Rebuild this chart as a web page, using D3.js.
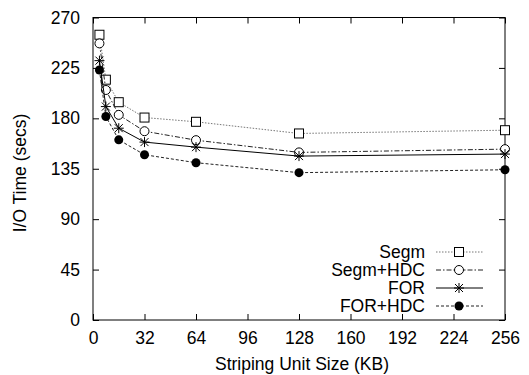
<!DOCTYPE html>
<html>
<head>
<meta charset="utf-8">
<script src="https://cdn.jsdelivr.net/npm/d3@7"></script>
<style>
  body { margin: 0; background: #fff; }
  svg text { font-family: "Liberation Sans", Arial, sans-serif; fill: #000; }
</style>
</head>
<body>
<svg id="chart" width="529" height="375"></svg>
<script>
// striping unit sizes (KB)
const unitSizes = [4, 8, 16, 32, 64, 128, 256];
const seriesNames = ['Segm', 'Segm+HDC', 'FOR', 'FOR+HDC'];
const segm = [254.6, 214.5, 194.4, 180.7, 176.9, 166.5, 169.4];
const segmHdc = [246.9, 205.3, 183.1, 168.5, 160.5, 149.6, 152.5];
const forVals = [231.5, 190.5, 171.2, 158.8, 154.3, 146.3, 148.1];
const forHdc = [223.1, 181.6, 160.8, 147.5, 140.4, 131.5, 134.1];
const xTicks = [0, 32, 64, 96, 128, 160, 192, 224, 256];
const yTicks = [0, 45, 90, 135, 180, 225, 270];

const allSeries = [segm, segmHdc, forVals, forHdc];
const dashes = ['1.5,1.5', '5,2,1.5,2', null, '3,2'];
const strokes = ['#777', '#222', '#000', '#222'];
const markers = ['square', 'circle', 'star', 'dot'];

const fontSize = '17.5px';
const svg = d3.select('#chart');
const pLeft = 93, pRight = 505, pTop = 17.5, pBottom = 320;

const x = d3.scaleLinear().domain([0, 256]).range([pLeft, pRight]);
const y = d3.scaleLinear().domain([0, 270]).range([pBottom, pTop]);

// axes with inward ticks (gnuplot style)
svg.append('g')
    .attr('transform', `translate(0,${pBottom})`)
    .call(d3.axisBottom(x).tickValues(xTicks).tickSizeInner(-6).tickSizeOuter(0).tickPadding(12))
    .call(g => g.select('.domain').remove())
    .selectAll('text').style('font-size', fontSize);
svg.append('g')
    .attr('transform', `translate(0,${pTop})`)
    .call(d3.axisTop(x).tickValues(xTicks).tickSizeInner(-6).tickSizeOuter(0).tickFormat(''))
    .call(g => g.select('.domain').remove());
svg.append('g')
    .attr('transform', `translate(${pLeft},0)`)
    .call(d3.axisLeft(y).tickValues(yTicks).tickSizeInner(-6).tickSizeOuter(0).tickPadding(13))
    .call(g => g.select('.domain').remove())
    .selectAll('text').style('font-size', fontSize);
svg.append('g')
    .attr('transform', `translate(${pRight},0)`)
    .call(d3.axisRight(y).tickValues(yTicks).tickSizeInner(-6).tickSizeOuter(0).tickFormat(''))
    .call(g => g.select('.domain').remove());

svg.selectAll('.tick line').attr('stroke', '#000');

svg.append('rect')
    .attr('x', pLeft).attr('y', pTop)
    .attr('width', pRight - pLeft).attr('height', pBottom - pTop)
    .attr('fill', 'none').attr('stroke', '#000').attr('stroke-width', 1);

// axis titles
svg.append('text')
    .attr('x', 302).attr('y', 370)
    .attr('text-anchor', 'middle').style('font-size', fontSize)
    .text('Striping Unit Size (KB)');
svg.append('text')
    .attr('transform', 'translate(26,173) rotate(-90)')
    .attr('text-anchor', 'middle').style('font-size', fontSize)
    .text('I/O Time (secs)');

function drawMarker(g, type, cx, cy) {
    if (type === 'square') {
        g.append('rect').attr('x', cx - 4.5).attr('y', cy - 4.5)
            .attr('width', 9).attr('height', 9)
            .attr('fill', '#fff').attr('stroke', '#000').attr('stroke-width', 1);
    } else if (type === 'circle') {
        g.append('circle').attr('cx', cx).attr('cy', cy).attr('r', 4.5)
            .attr('fill', '#fff').attr('stroke', '#000').attr('stroke-width', 1);
    } else if (type === 'star') {
        // gnuplot style star: plus + cross
        g.append('path')
            .attr('d', `M${cx - 4},${cy - 4}L${cx + 4},${cy + 4}M${cx - 4},${cy + 4}L${cx + 4},${cy - 4}` +
                `M${cx},${cy - 5}L${cx},${cy + 5}M${cx - 5},${cy}L${cx + 5},${cy}`)
            .attr('fill', 'none').attr('stroke', '#000').attr('stroke-width', 1);
    } else {
        g.append('circle').attr('cx', cx).attr('cy', cy).attr('r', 4.5).attr('fill', '#000');
    }
}

const line = d3.line().x(d => x(d[0])).y(d => y(d[1]));

allSeries.forEach(function(vals, i) {
    const pts = unitSizes.map((u, k) => [u, vals[k]]);
    svg.append('path')
        .datum(pts)
        .attr('d', line)
        .attr('fill', 'none')
        .attr('stroke', strokes[i])
        .attr('stroke-width', 1)
        .attr('stroke-dasharray', dashes[i]);
    const g = svg.append('g');
    pts.forEach(p => drawMarker(g, markers[i], x(p[0]), y(p[1])));
});

// legend
seriesNames.forEach(function(name, i) {
    const ly = 252 + i * 18;
    svg.append('text')
        .attr('x', 425).attr('y', ly + 6)
        .attr('text-anchor', 'end').style('font-size', fontSize)
        .text(name);
    svg.append('line')
        .attr('x1', 436).attr('x2', 483).attr('y1', ly).attr('y2', ly)
        .attr('stroke', strokes[i]).attr('stroke-width', 1)
        .attr('stroke-dasharray', dashes[i]);
    drawMarker(svg.append('g'), markers[i], 459, ly);
});
</script>
</body>
</html>
